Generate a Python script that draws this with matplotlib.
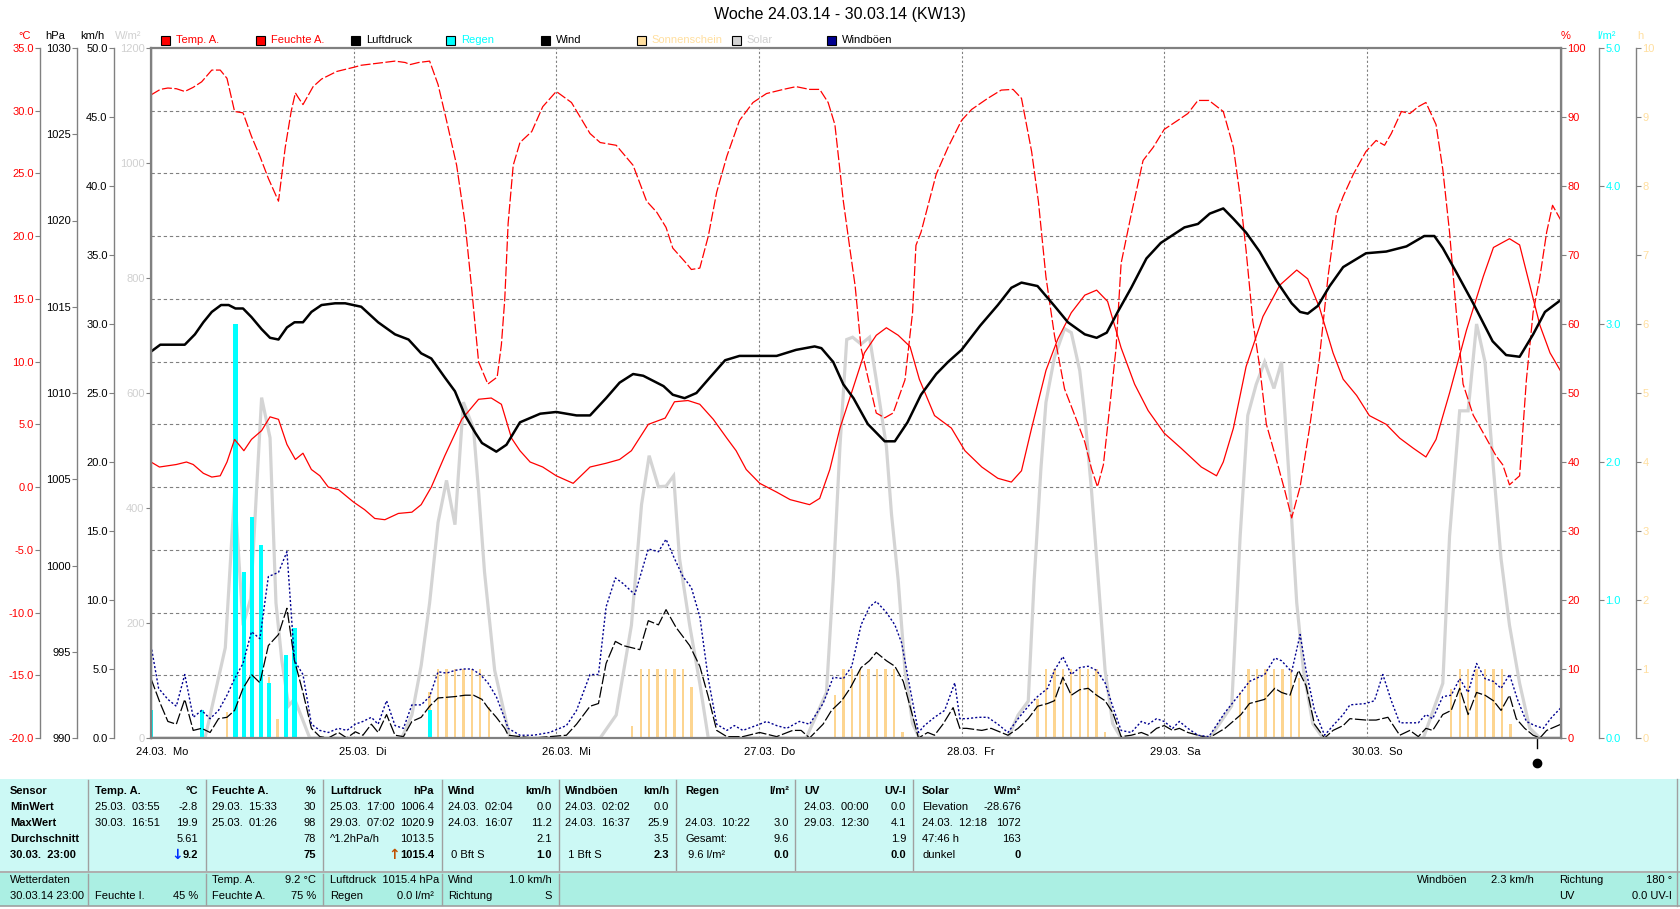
import numpy as np
import matplotlib
matplotlib.use("Agg")
import matplotlib.pyplot as plt
from matplotlib.patches import Rectangle
from matplotlib.lines import Line2D
from matplotlib.transforms import blended_transform_factory

plt.rcParams['font.family'] = ['Liberation Sans', 'DejaVu Sans']
plt.rcParams['font.size'] = 8

# ---- data (hour since 24.03. 00:00, value) ----
temp = [(0, 2.0), (1, 1.6), (3, 1.8), (4.2, 2.0), (5, 1.8), (6.2, 1.1), (7.2, 0.8), (8.2, 0.9), (9, 2.0),
        (9.9, 3.8), (11, 2.9), (11.9, 3.8), (13.1, 4.5), (14.1, 5.6), (15.1, 5.4), (16.1, 3.4), (17.1, 2.2),
        (18, 2.7), (19, 1.4), (20, 0.9), (21, 0.0), (22.2, -0.2), (24, -1.2), (25.3, -1.8), (26.5, -2.5),
        (27.7, -2.6), (29.3, -2.1), (30.9, -2.0), (32, -1.4), (33.2, 0.0), (34.8, 2.5), (36.8, 5.4),
        (38.8, 7.0), (40.3, 7.1), (41.5, 6.6), (42.7, 3.9), (43.7, 2.9), (44.9, 2.0), (46.4, 1.6), (48, 0.9),
        (50, 0.3), (52, 1.6), (53.9, 1.9), (55.5, 2.2), (56.9, 2.9), (58.9, 5.0), (60.9, 5.5), (62, 6.8),
        (63.6, 6.9), (65, 6.6), (66.6, 5.4), (68.2, 3.9), (69.3, 2.9), (70.5, 1.4), (72.1, 0.3), (74.1, -0.4),
        (75.7, -1.0), (78, -1.4), (79.2, -0.9), (80.4, 1.4), (81.6, 4.7), (83.3, 8.2), (84.5, 10.7),
        (85.9, 12.1), (87.1, 12.7), (88.5, 12.1), (89.9, 11.2), (91, 8.6), (92.8, 5.7), (94.8, 4.7),
        (96.4, 2.9), (98.4, 1.6), (100.3, 0.7), (101.9, 0.4), (103.1, 1.3), (104.3, 4.7), (106, 9.3),
        (107.4, 11.8), (109, 13.9), (110.6, 15.3), (112, 15.7), (113.3, 14.8), (114.9, 11.1), (116.5, 8.2),
        (118.1, 6.1), (120, 4.3), (122, 3.1), (124.4, 1.6), (126.2, 0.9), (127, 2.0), (128.2, 4.7),
        (129.7, 9.6), (131.7, 13.6), (133.7, 16.1), (135.7, 17.3), (137, 16.6), (138.4, 14.3), (140, 10.7),
        (141.2, 8.6), (142.8, 7.3), (144.3, 5.7), (146.3, 5.0), (147.9, 3.9), (149.5, 3.1), (151, 2.4),
        (152.2, 3.8), (153.8, 7.5), (155.8, 12.5), (157.8, 16.8), (159, 19.1), (160.9, 19.8), (162.1, 19.3),
        (163.3, 16.1), (164.5, 12.9), (165.7, 10.7), (167, 9.2)]

humidity = [(0, 93.2), (1.1, 94.0), (2, 94.2), (3, 94.1), (4, 93.7), (5, 94.3), (6, 95.1), (7.2, 96.8),
            (8.2, 96.8), (9, 95.6), (9.9, 90.8), (10.9, 90.6), (11.9, 87.2), (12.9, 84.3), (13.9, 81.1),
            (15.1, 77.8), (15.9, 85.6), (16.6, 90.8), (17.1, 93.5), (17.4, 92.9), (18, 91.8), (19.2, 94.4),
            (20.2, 95.5), (22, 96.6), (24, 97.2), (24.9, 97.5), (26.9, 97.8), (28.9, 98.1), (30.1, 97.9),
            (30.7, 97.6), (31.7, 97.9), (33, 98.1), (34, 94.7), (35, 89.5), (36.2, 83.0), (37.2, 74.6),
            (38, 64.9), (38.8, 54.5), (39.9, 51.3), (41, 52.3), (41.5, 57.0), (41.9, 63.6), (42.3, 74.6),
            (42.9, 83.0), (43.7, 86.3), (45.1, 87.9), (46.4, 91.5), (48, 93.7), (49.8, 92.1), (52, 87.6),
            (53.2, 86.3), (55.1, 85.9), (57.1, 83.0), (58.7, 77.8), (59.9, 76.2), (61, 74.0), (61.8, 71.0),
            (63.4, 68.8), (64, 67.9), (65, 68.1), (66, 72.7), (67, 79.1), (68.2, 84.3), (69.7, 89.5),
            (71.3, 92.1), (72.9, 93.4), (74.9, 94.0), (76.4, 94.4), (78, 94.0), (79.2, 94.0), (80.2, 92.1),
            (81, 88.9), (82, 77.8), (82.8, 70.7), (83.4, 65.5), (84.1, 56.5), (85.1, 51.3), (85.9, 47.1),
            (86.9, 46.4), (87.9, 47.1), (89.3, 51.9), (90.2, 61.7), (90.6, 71.4), (91.2, 73.3), (93, 81.7),
            (94.4, 85.6), (96, 89.5), (97.2, 91.1), (99.1, 92.7), (100.7, 93.9), (102.1, 94.0), (103.1, 92.7),
            (104.3, 85.0), (105.1, 77.8), (106, 66.8), (107, 58.4), (108.2, 50.6), (109.4, 46.8),
            (110.6, 42.9), (111.4, 39.0), (112.1, 36.4), (112.8, 39.6), (113.5, 47.4), (114.3, 56.5),
            (114.9, 68.8), (116.1, 75.9), (117.5, 83.7), (118.7, 85.6), (120, 88.2), (121.6, 89.5),
            (122.8, 90.5), (124, 92.4), (125.3, 92.4), (127, 90.8), (128.2, 85.6), (129, 78.5), (129.7, 70.7),
            (130.5, 60.4), (131.3, 53.9), (132.1, 45.5), (133.3, 40.3), (134.3, 35.8), (135.1, 31.9),
            (136.1, 36.4), (137.2, 44.8), (138.4, 55.2), (139.4, 66.8), (140.4, 75.9), (141.2, 78.5),
            (142.4, 81.7), (143.9, 85.0), (145.1, 86.6), (146.1, 85.9), (146.9, 87.6), (148.1, 90.8),
            (149.1, 90.5), (150.1, 91.5), (151, 92.1), (152.2, 88.9), (153, 82.4), (153.8, 73.3),
            (154.6, 61.7), (155.4, 51.3), (156.6, 46.8), (157.8, 44.2), (159.3, 40.9), (160.1, 39.6),
            (160.9, 36.7), (162.1, 38.0), (162.9, 51.9), (163.7, 61.7), (164.5, 66.8), (165.3, 73.3),
            (166, 77.2), (167, 75.0)]

pressure = [(0, 1012.4), (1.1, 1012.8), (4, 1012.8), (5.2, 1013.4), (6.2, 1014.1), (7.2, 1014.7),
            (8.3, 1015.1), (9.2, 1015.1), (10, 1014.9), (10.9, 1014.9), (11.9, 1014.4), (13.1, 1013.7),
            (14.1, 1013.2), (15.1, 1013.1), (16.1, 1013.8), (17, 1014.1), (18, 1014.1), (19, 1014.7),
            (20.2, 1015.1), (21.8, 1015.2), (23, 1015.2), (24.9, 1015.0), (26.9, 1014.1), (28.9, 1013.4),
            (30.5, 1013.1), (32, 1012.3), (33.2, 1012.0), (34.8, 1010.9), (36, 1010.1), (37.2, 1008.7),
            (38.4, 1007.7), (39.2, 1007.1), (40.9, 1006.6), (41.5, 1006.8), (42.1, 1007.0), (43.7, 1008.3),
            (46.1, 1008.8), (48, 1008.9), (50.4, 1008.7), (52, 1008.7), (53.9, 1009.7), (55.5, 1010.6),
            (57.1, 1011.1), (58.3, 1011.0), (59.5, 1010.7), (60.7, 1010.4), (61.8, 1009.9), (63.2, 1009.7),
            (64.6, 1010.0), (66.2, 1010.9), (68, 1011.9), (69.7, 1012.15), (72.1, 1012.15), (74.1, 1012.15),
            (76.4, 1012.5), (78.6, 1012.7), (79.4, 1012.6), (80.8, 1011.8), (82, 1010.5), (83.2, 1009.7),
            (84.9, 1008.2), (86.9, 1007.2), (88.1, 1007.2), (89.6, 1008.3), (91.2, 1009.9), (93, 1011.1),
            (94.4, 1011.8), (96, 1012.5), (98.2, 1013.9), (100.3, 1015.1), (101.9, 1016.1), (103.1, 1016.4),
            (105, 1016.2), (107, 1015.05), (108.6, 1014.1), (110.6, 1013.4), (112, 1013.2), (113.2, 1013.5),
            (114.5, 1014.7), (116.1, 1016.1), (117.9, 1017.8), (119.6, 1018.7), (122.4, 1019.6),
            (124, 1019.8), (125.4, 1020.4), (127, 1020.7), (128.2, 1020.1), (129.7, 1019.3), (131.3, 1018.2),
            (133.3, 1016.5), (135.1, 1015.2), (136.1, 1014.7), (137, 1014.6), (138.2, 1015.05),
            (139.6, 1016.2), (141.2, 1017.3), (143.9, 1018.1), (146.3, 1018.2), (148.7, 1018.5),
            (150.8, 1019.1), (152, 1019.1), (153, 1018.4), (154.6, 1017.0), (156.6, 1015.2), (158.9, 1013.0),
            (160.5, 1012.2), (162.1, 1012.1), (163.7, 1013.4), (165.1, 1014.7), (167, 1015.4)]

solar = [(0, 0), (6.4, 0), (8.8, 157), (9.9, 429), (10.9, 196), (11.8, 242), (13.1, 592), (14.1, 522),
         (14.8, 235), (15.5, 134), (16.3, 56), (17, 68), (18.8, 0), (29.7, 0), (30.9, 40), (32, 126),
         (33, 235), (34, 375), (35, 448), (36, 371), (37, 584), (38.2, 538), (38.8, 429), (39.5, 289),
         (40.7, 118), (41.9, 40), (42.5, 0), (53.2, 0), (55.1, 40), (56.9, 196), (58.1, 406), (59, 491),
         (60.1, 437), (61, 438), (61.9, 456), (62.6, 312), (63.8, 196), (65, 95), (66, 0), (77.6, 0),
         (80, 79), (80.8, 274), (81.6, 507), (82.4, 693), (83.1, 697), (84.1, 685), (85.1, 697), (85.9, 623),
         (87.1, 507), (87.7, 390), (88.5, 274), (89.3, 118), (90.2, 25), (91, 0), (101.5, 0), (102.7, 40),
         (103.9, 64), (104.6, 274), (105.4, 468), (106, 584), (107, 662), (108.2, 712), (109, 705),
         (110, 639), (110.6, 561), (111.4, 429), (112.2, 274), (113, 118), (113.9, 25), (114.9, 0),
         (125.4, 0), (128, 56), (129, 351), (129.9, 561), (130.9, 615), (131.9, 654), (133, 608),
         (133.9, 654), (134.9, 429), (135.7, 235), (136.5, 118), (137.6, 25), (138.8, 0), (150.7, 0),
         (153, 95), (153.8, 351), (155, 569), (156, 569), (157, 720), (158, 654), (159, 468), (159.9, 312),
         (160.9, 196), (162.1, 95), (163.3, 17), (164.5, 0), (167, 0)]

wind = [(0, 4.3), (1.1, 2.5), (2, 1.2), (3, 1.0), (4, 2.8), (5, 0.55), (6, 0.7), (7, 0.4), (8, 1.4), (9, 1.5),
        (9.9, 2.0), (10.9, 3.6), (11.9, 4.6), (12.9, 4.0), (13.9, 6.7), (15.1, 7.5), (16.1, 9.4), (17, 5.6),
        (18, 3.3), (19, 0.7), (20, 0.1), (21, 0), (22.2, 0.4), (23.2, 0), (24.2, 0.45), (25.1, 0.2),
        (26.1, 1.0), (26.9, 0.4), (27.9, 1.7), (28.9, 0.2), (29.9, 0.1), (30.9, 1.2), (32, 1.5), (33, 2.3),
        (34, 2.9), (36, 3.0), (37.2, 3.1), (38.2, 3.1), (39.2, 2.8), (39.9, 2.2), (40.9, 1.5), (41.9, 0.7),
        (42.3, 0.2), (43.7, 0.1), (45.3, 0), (47.2, 0.1), (49.2, 0.2), (50.4, 1.0), (52, 2.3), (53, 2.5),
        (53.9, 5.4), (55, 7.0), (55.9, 6.7), (57.9, 6.4), (58.9, 8.5), (60.1, 8.2), (61, 9.3), (62.2, 8.0),
        (63.8, 6.7), (65, 5.2), (66, 3.0), (67, 0.55), (68.2, 0.1), (70.1, 0.1), (72.1, 0.4), (74.1, 0.1),
        (76, 0.55), (77, 0.55), (78, 0), (79.6, 1.0), (80.6, 2.0), (81.8, 2.7), (82.8, 3.6), (84.1, 5.1),
        (85.1, 5.6), (85.9, 6.2), (87.1, 5.6), (88.1, 5.2), (89.1, 4.1), (89.9, 2.3), (90.9, 0), (92, 0.4),
        (92.8, 0.2), (93.8, 1.0), (95, 2.2), (95.8, 0.7), (96.6, 0.7), (98.4, 0.55), (99.5, 0.7),
        (101.5, 0.2), (102.7, 0.7), (103.9, 1.4), (105, 2.3), (106.2, 2.5), (107, 2.7), (108, 4.4),
        (109, 3.1), (110, 3.5), (111, 3.6), (112, 3.1), (113, 2.7), (113.9, 1.85), (114.9, 0.1),
        (116.1, 0.2), (117.3, 0.4), (118.1, 0.2), (119.1, 0.7), (120, 0.9), (121, 0.55), (121.8, 0.7),
        (122.8, 0.4), (124, 0.2), (125.3, 0), (127.2, 0.7), (129.1, 1.7), (130.1, 2.5), (131.9, 2.8),
        (133.1, 3.6), (133.9, 3.3), (134.9, 3.1), (135.9, 4.9), (136.8, 3.8), (137.8, 1.0), (139, 0),
        (140, 0.55), (141.2, 0.9), (142, 1.4), (143.9, 1.3), (145.1, 1.3), (146.5, 1.5), (147.9, 0.2),
        (149.1, 0.55), (150.1, 0.1), (151, 0.7), (151.8, 0.55), (153, 1.7), (154, 2.0), (155, 3.6),
        (156, 1.7), (157, 3.3), (158, 3.1), (159, 2.7), (159.9, 2.0), (160.9, 3.1), (161.7, 1.4),
        (162.7, 0.7), (163.7, 0.2), (164.5, 0), (165.3, 0.55), (167, 1.0)]

gusts = [(0, 6.7), (0.9, 3.6), (2, 2.8), (3, 2.3), (4, 4.6), (5, 1.5), (6, 2.0), (7, 1.4), (8, 2.0), (9, 3.1),
         (9.9, 4.3), (10.9, 5.4), (11.9, 7.7), (12.9, 7.2), (13.9, 11.7), (15.1, 12.0), (16.1, 13.5),
         (17, 5.6), (18, 4.6), (19, 1.0), (20, 0.55), (21, 0.4), (22.2, 0.7), (23.2, 0.55), (24.2, 1.0),
         (25.1, 1.2), (26.1, 1.5), (26.9, 1.0), (27.9, 2.7), (28.9, 0.9), (29.9, 0.7), (30.9, 2.4), (32, 2.4),
         (33, 3.0), (34, 4.8), (35, 4.7), (36, 4.9), (37, 5.0), (38, 5.0), (39, 4.6), (39.9, 4.0), (40.9, 3.0),
         (41.9, 1.4), (42.3, 0.7), (43.7, 0.2), (45.3, 0.2), (47.2, 0.4), (49.2, 0.9), (50.4, 2.0), (52, 4.6),
         (53, 4.6), (53.9, 9.5), (55, 11.6), (55.9, 11.2), (57.3, 10.4), (58.9, 13.7), (60.1, 13.5),
         (61, 14.4), (62, 13.0), (63, 11.7), (64, 10.9), (65, 8.8), (66, 4.3), (67, 1.0), (68.2, 0.55),
         (69.1, 0.9), (70.1, 0.55), (72.1, 1.0), (72.9, 1.2), (74.1, 0.9), (75.3, 0.7), (76.8, 1.2), (78, 1.0),
         (79.6, 2.5), (80.8, 4.4), (82, 4.3), (83, 5.2), (84.1, 8.2), (85.1, 9.5), (85.9, 9.9), (87.1, 9.1),
         (88.1, 8.2), (88.9, 6.9), (89.9, 3.6), (90.9, 0.4), (91.6, 0.9), (92.8, 1.5), (94, 2.0), (95.2, 4.0),
         (95.8, 1.4), (96.6, 1.4), (98, 1.5), (99.1, 1.5), (100.3, 1.0), (101.5, 0.4), (102.7, 1.4),
         (103.9, 2.3), (105, 3.0), (106.2, 3.6), (107, 4.9), (108, 5.9), (109, 4.6), (110, 5.1), (111, 5.2),
         (112, 4.9), (113, 4.0), (113.9, 2.3), (114.9, 0.55), (116.1, 0.4), (117.3, 1.2), (118.1, 1.0),
         (119.1, 1.4), (120, 1.2), (121, 0.7), (121.8, 1.2), (122.8, 0.7), (124, 0.2), (125.3, 0.1),
         (127.2, 1.85), (129.1, 3.3), (130.1, 4.1), (131.9, 4.6), (133.1, 5.8), (133.9, 5.6), (135.1, 4.8),
         (136.1, 7.5), (136.8, 4.9), (137.8, 2.0), (139, 0.2), (140, 0.9), (141.2, 1.7), (142, 2.4),
         (143.9, 2.5), (144.9, 2.7), (145.9, 4.6), (146.9, 2.7), (147.9, 1.1), (149.1, 1.1), (150.1, 1.1),
         (151, 1.7), (151.8, 1.4), (153, 3.0), (154, 3.1), (155, 4.3), (156, 3.3), (157, 5.4), (158, 4.3),
         (159, 4.1), (159.9, 3.6), (160.9, 4.6), (161.9, 2.7), (162.9, 1.2), (163.9, 0.9), (164.9, 0.7),
         (165.9, 1.5), (167, 2.2)]

rain_h = [0, 6, 10, 11, 12, 13, 14, 16, 17, 33]
rain_v = [0.2, 0.2, 3.0, 1.2, 1.6, 1.4, 0.4, 0.6, 0.8, 0.2]

sun_h = [9, 14, 15,
         33, 34, 35, 36, 37, 38, 39, 40,
         57, 58, 59, 60, 61, 62, 63, 64,
         81, 82, 83, 84, 85, 86, 87, 88, 89,
         105, 106, 107, 108, 109, 110, 111, 112, 113,
         129, 130, 131, 132, 133, 134, 135, 136,
         154, 155, 156, 157, 158, 159, 160, 161]
sun_v = [0.37, 0.89, 0.28,
         0.67, 1, 1, 1, 1, 1, 1, 0.45,
         0.17, 1, 1, 1, 1, 1, 1, 0.74,
         0.63, 1, 1, 1, 1, 1, 1, 1, 0.08,
         0.56, 1, 1, 1, 1, 1, 1, 1, 0.08,
         0.67, 1, 1, 1, 1, 1, 1, 0.87,
         0.71, 1, 1, 1, 1, 1, 1, 0.21]

day_labels = ["24.03.  Mo", "25.03.  Di", "26.03.  Mi", "27.03.  Do", "28.03.  Fr", "29.03.  Sa", "30.03.  So"]
now_marker_h = 164.1

title = "Woche 24.03.14 - 30.03.14 (KW13)"

# ---- colors ----
RED = '#ff0000'
CYAN = '#00ffff'
SUN = '#fdd590'
SUN_TXT = '#ffdf9f'
SOLAR = '#d4d4d4'
SOLAR_TXT = '#d0d0d0'
GUST = '#000090'
GRID = '#808080'

W, H = 1680, 909
L, R, T, B = 151, 1561, 48, 738


def fx(x):
    return x / W


def fy(y):
    return 1 - y / H


fig = plt.figure(figsize=(W / 100, H / 100), dpi=100)
fig.patch.set_facecolor('white')
pos = [fx(L), fy(B), (R - L) / W, (B - T) / H]

# main axes: temperature scale + grid
ax = fig.add_axes(pos)
ax.set_xlim(0, 167)
ax.set_ylim(-20, 35)
ax.set_xticks([])
ax.set_yticks([])
for s in ax.spines.values():
    s.set_visible(False)
for t in np.arange(-15, 31, 5):
    ax.axhline(t, color=GRID, lw=0.8, dashes=(3, 2.5), zorder=0)
for d in range(1, 7):
    ax.axvline(d * 24, color=GRID, lw=0.8, dashes=(2, 2), zorder=0)


def overlay(lo, hi):
    o = fig.add_axes(pos)
    o.set_xlim(0, 167)
    o.set_ylim(lo, hi)
    o.set_axis_off()
    return o


def xy(pairs):
    h, v = zip(*pairs)
    return list(h), list(v)


ax_s = overlay(0, 1200)
ax_s.plot(*xy(solar), color=SOLAR, lw=2.3, solid_joinstyle='miter')

ax_sun = overlay(0, 10)
ax_sun.bar(sun_h, sun_v, width=0.28, color=SUN, linewidth=0)

ax_r = overlay(0, 5)
ax_r.bar(rain_h, rain_v, width=0.5, color=CYAN, linewidth=0)

ax_w = overlay(0, 50)
ax_w.plot(*xy(wind), color='black', lw=0.9, dashes=(9, 2))
ax_w.plot(*xy(gusts), color=GUST, lw=1.0, dashes=(1.5, 1.5))

ax_t = overlay(-20, 35)
ax_t.plot(*xy(temp), color=RED, lw=0.9)

ax_h = overlay(0, 100)
ax_h.plot(*xy(humidity), color=RED, lw=0.9, dashes=(8, 2))

ax_p = overlay(990, 1030)
ax_p.plot(*xy(pressure), color='black', lw=1.8)

# frame on top
frame = fig.add_axes(pos)
frame.patch.set_visible(False)
frame.set_xticks([])
frame.set_yticks([])
for s in frame.spines.values():
    s.set_color(GRID)
    s.set_linewidth(1.6)


def scale_axis(xpx, lo, hi, step, fmt, color, side='left'):
    a = fig.add_axes([fx(xpx), fy(B), 1e-5, (B - T) / H])
    a.set_ylim(lo, hi)
    a.set_xticks([])
    a.patch.set_visible(False)
    for s in a.spines.values():
        s.set_visible(False)
    a.spines[side].set_visible(True)
    a.spines[side].set_color(GRID)
    a.spines[side].set_linewidth(1.0)
    ticks = np.arange(lo, hi + step / 2, step)
    a.set_yticks(ticks)
    a.set_yticklabels([fmt.format(t) for t in ticks])
    a.tick_params(axis='y', left=(side == 'left'), right=(side == 'right'),
                  labelleft=(side == 'left'), labelright=(side == 'right'),
                  length=3.6, width=0.8, color=GRID, labelcolor=color, pad=1, labelsize=8)
    return a


scale_axis(40, -20, 35, 5, '{:.1f}', RED)
scale_axis(77, 990, 1030, 5, '{:.0f}', 'black')
scale_axis(114, 0, 50, 5, '{:.1f}', 'black')
scale_axis(L, 0, 1200, 200, '{:.0f}', SOLAR_TXT)
scale_axis(R, 0, 100, 10, '{:.0f}', RED, side='right')
scale_axis(1599, 0, 5, 1, '{:.1f}', CYAN, side='right')
scale_axis(1636, 0, 10, 1, '{:.0f}', SUN_TXT, side='right')

# unit headers
for x, s, c in [(25, '°C', RED), (55, 'hPa', 'black'), (92, 'km/h', 'black'), (128, 'W/m²', SOLAR_TXT),
                (1566, '%', RED), (1607, 'l/m²', CYAN), (1640, 'h', SUN_TXT)]:
    fig.text(fx(x), fy(36), s, color=c, ha='center', va='center', fontsize=8)

# title
fig.text(fx(840), fy(15), title, ha='center', va='center', fontsize=11.5)

# legend
legend = [('Temp. A.', RED, RED), ('Feuchte A.', RED, RED), ('Luftdruck', 'black', 'black'),
          ('Regen', CYAN, CYAN), ('Wind', 'black', 'black'), ('Sonnenschein', SUN_TXT, SUN_TXT),
          ('Solar', SOLAR, SOLAR_TXT), ('Windböen', GUST, 'black')]
for i, (name, sq, tc) in enumerate(legend):
    x0 = 161 + i * 95.1
    fig.add_artist(Rectangle((fx(x0), fy(45)), 9 / W, 9 / H, transform=fig.transFigure,
                             facecolor=sq, edgecolor='black', lw=0.8))
    fig.text(fx(x0 + 15), fy(40), name, color=tc, ha='left', va='center', fontsize=8)

# day labels
trans = blended_transform_factory(ax.transData, ax.transAxes)
for d, lab in enumerate(day_labels):
    ax.annotate(lab, xy=(d * 24, 0), xycoords=trans, xytext=(-10.5, -10), textcoords='offset points',
                ha='left', va='center', fontsize=8, annotation_clip=False)

ax.plot([now_marker_h, now_marker_h], [0, -0.014], color='black', lw=1, transform=trans, clip_on=False)
ax.plot([now_marker_h], [-0.036], marker='o', ms=6, color='black', transform=trans, clip_on=False)

# ---- table panels ----
fig.add_artist(Rectangle((0, fy(871)), 1, (871 - 779) / H, transform=fig.transFigure,
                         facecolor='#ccf9f5', edgecolor='none'))
fig.add_artist(Rectangle((0, fy(906)), 1, (906 - 873) / H, transform=fig.transFigure,
                         facecolor='#abefe3', edgecolor='none'))
for yy in (872, 906):
    fig.add_artist(Line2D([0, 1], [fy(yy), fy(yy)], color='#a0a0a0', lw=1.2, transform=fig.transFigure))
fig.add_artist(Line2D([fx(1677), fx(1677)], [fy(779), fy(906)], color='#a0a0a0', lw=1,
                      transform=fig.transFigure))

seps = [88, 206, 323, 442, 559, 676, 795, 913]
for i, sx in enumerate(seps):
    fig.add_artist(Line2D([fx(sx), fx(sx)], [fy(780), fy(870)], color='#a0a0a0', lw=1,
                          transform=fig.transFigure))
    if i < 5:
        fig.add_artist(Line2D([fx(sx), fx(sx)], [fy(874), fy(905)], color='#a0a0a0', lw=1,
                              transform=fig.transFigure))


def txt(x, y, s, ha='left', bold=False, color='black', size=8):
    return fig.text(fx(x), fy(y), s, ha=ha, va='center', fontsize=size, color=color,
                    fontweight='bold' if bold else 'normal')


cols_left = [95, 212, 330, 448, 565, 685, 804, 922]
cols_right = [198, 316, 434, 552, 669, 789, 906, 1021]
rows_y = [791, 807, 823, 839, 855]

sensor_rows = ['Sensor', 'MinWert', 'MaxWert', 'Durchschnitt', '30.03.  23:00']
headers = [('Temp. A.', '°C'), ('Feuchte A.', '%'), ('Luftdruck', 'hPa'), ('Wind', 'km/h'),
           ('Windböen', 'km/h'), ('Regen', 'l/m²'), ('UV', 'UV-I'), ('Solar', 'W/m²')]
cells = [
    [('25.03.  03:55', '-2.8'), ('30.03.  16:51', '19.9'), ('', '5.61'), ('', '9.2')],
    [('29.03.  15:33', '30'), ('25.03.  01:26', '98'), ('', '78'), ('', '75')],
    [('25.03.  17:00', '1006.4'), ('29.03.  07:02', '1020.9'), ('^1.2hPa/h', '1013.5'), ('', '1015.4')],
    [('24.03.  02:04', '0.0'), ('24.03.  16:07', '11.2'), ('', '2.1'), (' 0 Bft S', '1.0')],
    [('24.03.  02:02', '0.0'), ('24.03.  16:37', '25.9'), ('', '3.5'), (' 1 Bft S', '2.3')],
    [('', ''), ('24.03.  10:22', '3.0'), ('Gesamt:', '9.6'), (' 9.6 l/m²', '0.0')],
    [('24.03.  00:00', '0.0'), ('29.03.  12:30', '4.1'), ('', '1.9'), ('', '0.0')],
    [('Elevation', '-28.676'), ('24.03.  12:18', '1072'), ('47:46 h', '163'), ('dunkel', '0')],
]

for r, lab in enumerate(sensor_rows):
    txt(10, rows_y[r], lab, bold=True)

value_texts = {}
for c, (hd, unit) in enumerate(headers):
    txt(cols_left[c], rows_y[0], hd, bold=True)
    txt(cols_right[c], rows_y[0], unit, ha='right', bold=True)
    for r, (lt, rt) in enumerate(cells[c]):
        if lt:
            txt(cols_left[c], rows_y[r + 1], lt)
        if rt:
            t = txt(cols_right[c], rows_y[r + 1], rt, ha='right', bold=(r == 3))
            value_texts[(c, r)] = t

# trend arrows before current temperature and pressure
renderer = fig.canvas.get_renderer()
for (c, r), arrow, col in [((0, 3), '↓', '#0030ff'), ((2, 3), '↑', '#c05000')]:
    ext = value_texts[(c, r)].get_window_extent(renderer)
    fig.text(ext.x0 / W, fy(rows_y[r + 1]), arrow, ha='right', va='center', fontsize=10,
             color=col, fontweight='bold', family='DejaVu Sans')

# bottom info bar
bot_y = [880, 896]
txt(10, bot_y[0], 'Wetterdaten')
txt(10, bot_y[1], '30.03.14 23:00')
txt(95, bot_y[1], 'Feuchte I.')
txt(198, bot_y[1], '45 %', ha='right')
txt(212, bot_y[0], 'Temp. A.')
txt(316, bot_y[0], '9.2 °C', ha='right')
txt(212, bot_y[1], 'Feuchte A.')
txt(316, bot_y[1], '75 %', ha='right')
txt(330, bot_y[0], 'Luftdruck  1015.4 hPa')
txt(330, bot_y[1], 'Regen')
txt(434, bot_y[1], '0.0 l/m²', ha='right')
txt(448, bot_y[0], 'Wind')
txt(552, bot_y[0], '1.0 km/h', ha='right')
txt(448, bot_y[1], 'Richtung')
txt(552, bot_y[1], 'S', ha='right')
txt(1417, bot_y[0], 'Windböen')
txt(1534, bot_y[0], '2.3 km/h', ha='right')
txt(1559, bot_y[0], 'Richtung')
txt(1672, bot_y[0], '180 °', ha='right')
txt(1559, bot_y[1], 'UV')
txt(1672, bot_y[1], '0.0 UV-I', ha='right')

fig.savefig('out.png', dpi=100)
